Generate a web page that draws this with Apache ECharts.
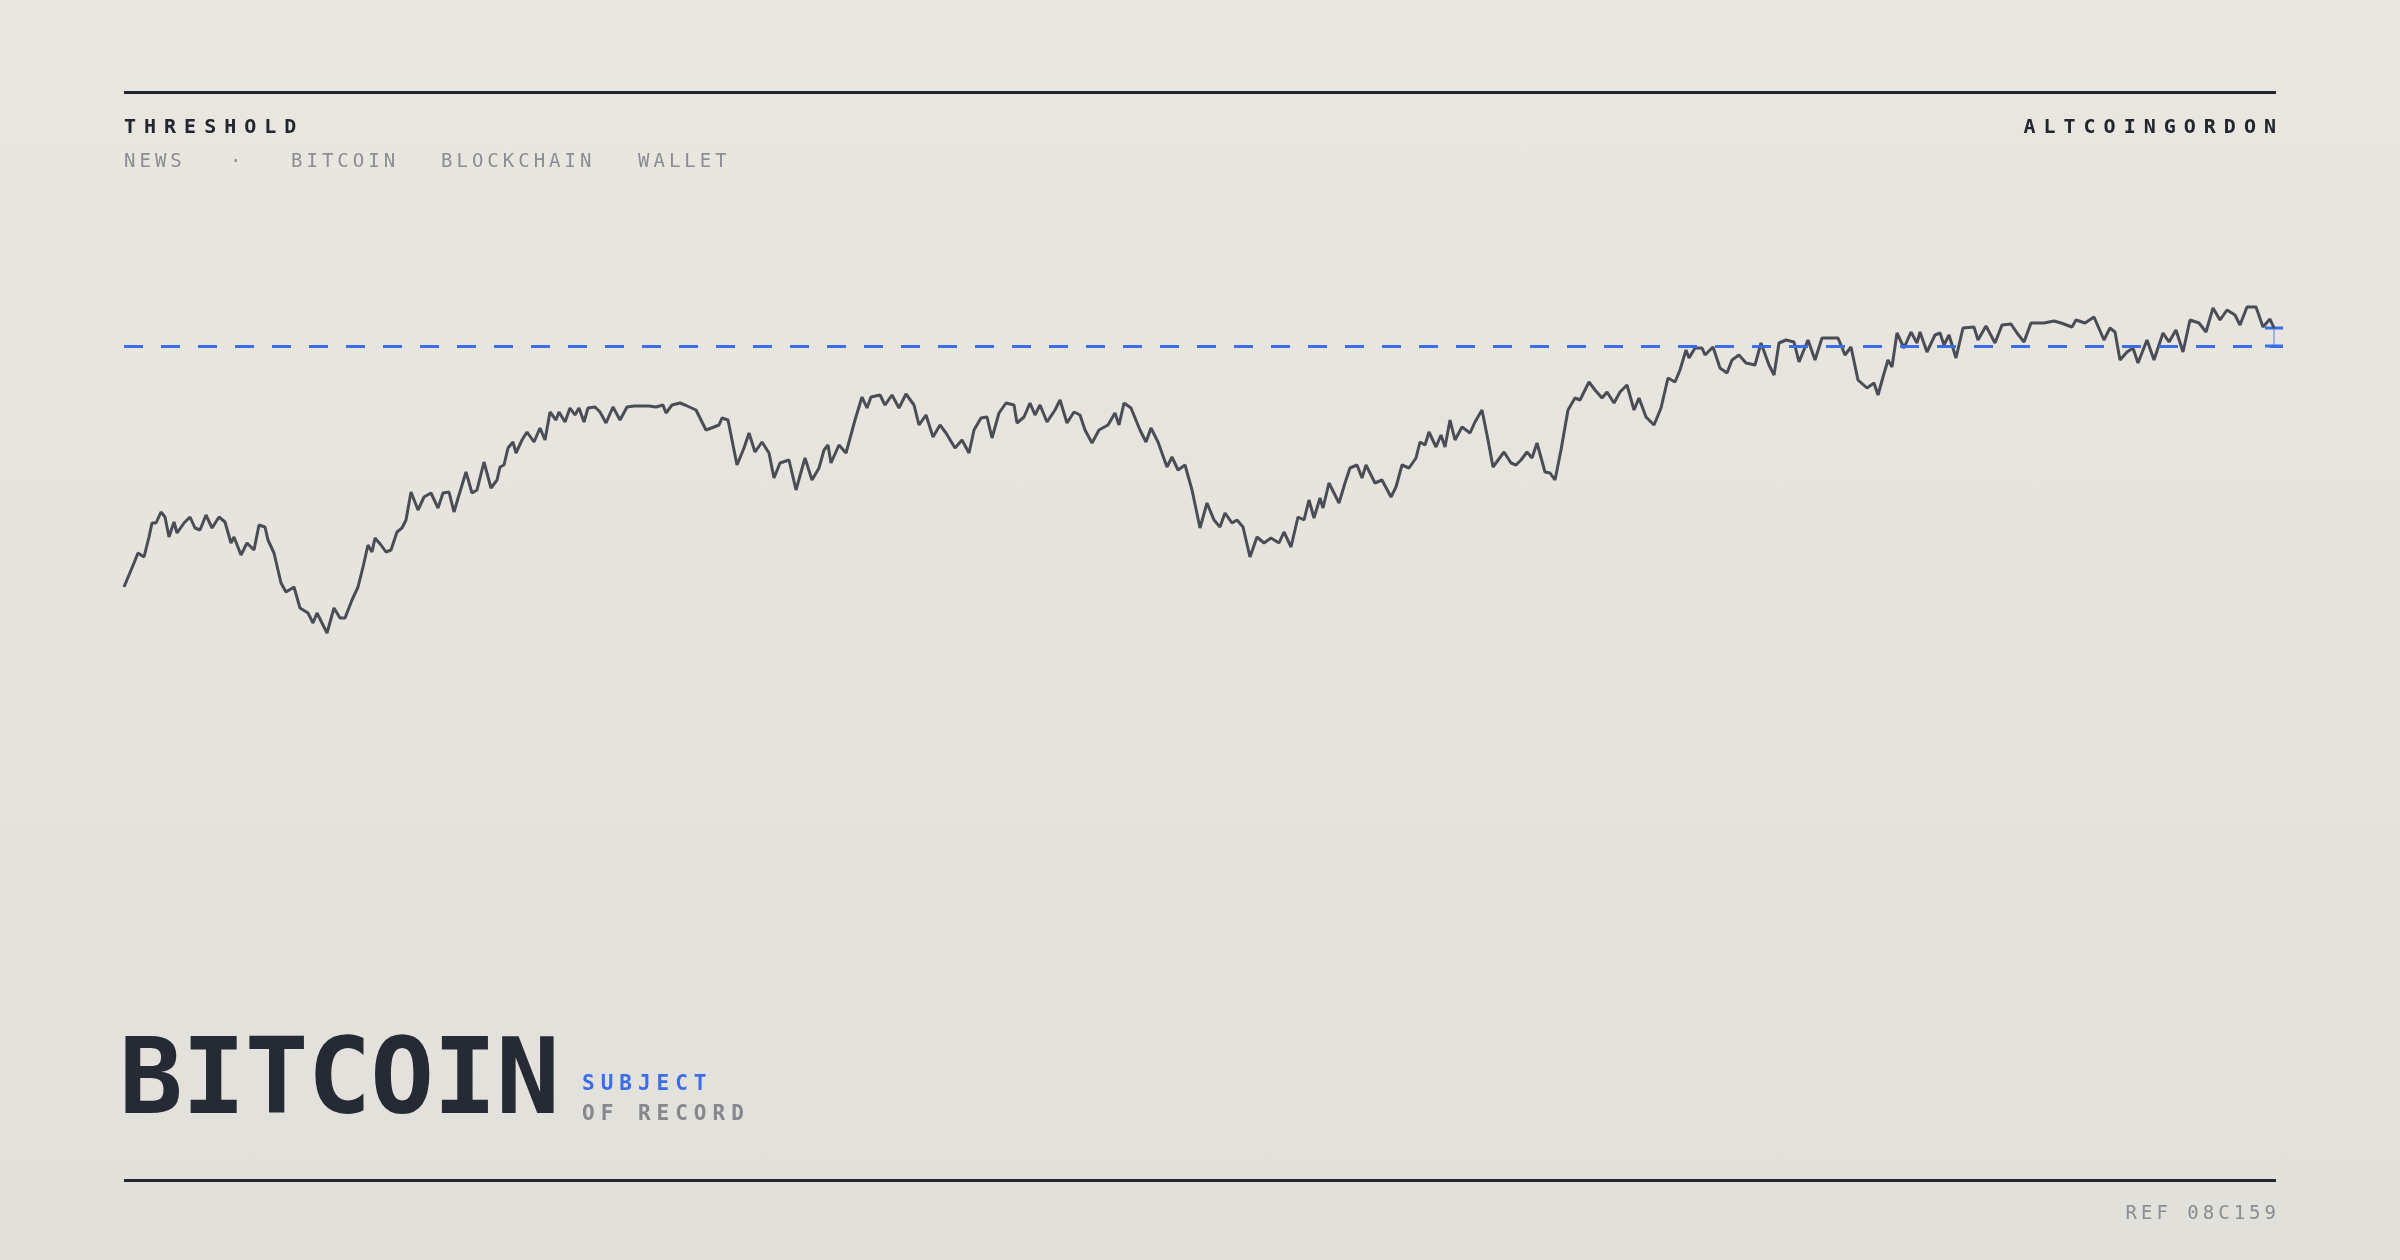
<!DOCTYPE html>
<html>
<head>
<meta charset="utf-8">
<script src="https://cdn.jsdelivr.net/npm/echarts@6/dist/echarts.min.js"></script>
<style>
  html, body { margin: 0; width: 2400px; height: 1260px; overflow: hidden; }
  body { background: linear-gradient(#eae7e1, #e2e0da); font-family: "DejaVu Sans Mono", monospace; position: relative; }
  #chart { position: absolute; left: 0; top: 0; width: 2400px; height: 1260px; }
  .t { position: absolute; white-space: nowrap; }
  .rule { position: absolute; left: 124px; width: 2152px; height: 3px; background: #23262e; }
</style>
</head>
<body>
<div id="chart"></div>
<div class="rule" style="top:91px"></div>
<div class="rule" style="top:1179px"></div>
<div class="t" style="left:124px;top:114px;font-size:20px;font-weight:bold;letter-spacing:8px;color:#23262e">THRESHOLD</div>
<div class="t" style="right:124px;top:114px;font-size:20px;font-weight:bold;letter-spacing:8px;color:#23262e;margin-right:-8px">ALTCOINGORDON</div>
<div class="t" style="left:124px;top:149px;font-size:19px;letter-spacing:4px;color:#8b8d93">NEWS</div>
<div class="t" style="left:230px;top:149px;font-size:19px;letter-spacing:4px;color:#8b8d93">·</div>
<div class="t" style="left:291px;top:149px;font-size:19px;letter-spacing:4px;color:#8b8d93">BITCOIN</div>
<div class="t" style="left:441px;top:149px;font-size:19px;letter-spacing:4px;color:#8b8d93">BLOCKCHAIN</div>
<div class="t" style="left:638px;top:149px;font-size:19px;letter-spacing:4px;color:#8b8d93">WALLET</div>
<div class="t" style="left:119px;top:1015px;font-size:106px;font-weight:bold;color:#262a35;letter-spacing:-1px">BITCOIN</div>
<div class="t" style="left:582px;top:1071px;font-size:21px;font-weight:bold;letter-spacing:6px;color:#3a6ee8">SUBJECT</div>
<div class="t" style="left:582px;top:1101px;font-size:21px;font-weight:bold;letter-spacing:6px;color:#85878d">OF RECORD</div>
<div class="t" style="right:124px;top:1201px;font-size:19px;letter-spacing:4px;color:#8b8d93;margin-right:-4px">REF 08C159</div>
<script>
var days = [0,10,14,20,25,28,32,37,41,45,50,53,60,66,71,76,82,88,95,101,107,110,117,123,130,135,141,144,150,157,162,170,176,184,189,193,198,203,210,216,221,228,234,239,244,248,251,257,262,267,273,278,282,287,294,300,307,314,319,325,330,335,342,348,353,360,367,373,376,380,384,389,392,398,403,410,416,421,426,432,435,441,446,451,455,460,464,471,476,482,489,496,503,510,525,532,539,542,548,556,
561,572,582,590,595,598,604,613,620,625,631,638,645,650,656,665,672,681,688,695,700,704,707,715,722,731,738,743,747,756,761,768,775,782,790,795,802,809,816,822,831,838,845,850,857,863,868,875,882,890,893,900,906,911,916,923,931,936,943,950,956,961,968,975,984,991,995,1000,1007,1016,1022,1027,1034,1043,1048,1054,1061,1068,1076,
1083,1090,1096,1101,1108,1113,1119,1126,1133,1140,1147,1155,1160,1167,1174,1180,1185,1190,1196,1199,1205,1215,1221,1226,1233,1238,1242,1251,1258,1267,1272,1278,1285,1292,1296,1301,1305,1312,1317,1321,1326,1331,1338,1346,1351,1358,1364,1369,1380,1387,1392,1397,1403,1408,1413,1421,1426,1431,1437,1444,1451,1456,1465,1471,1478,1483,1490,1496,1503,1510,1515,1522,1530,1537,1544,1551,1556,1562,1565,1571,1578,1581,1589,1596,1603,1608,1615,1622,1631,
1637,1645,1650,1655,1662,1670,1675,1684,1691,1698,1714,1721,1727,1734,1743,1750,1754,1759,1764,1768,1773,1780,1787,1793,1796,1803,1811,1816,1820,1825,1832,1839,1850,1854,1862,1871,1878,1887,1893,1900,1907,1920,1930,1937,1948,1952,1961,1970,1980,1986,1991,1996,2003,2009,2014,2023,2030,2039,2045,2052,2059,2066,2075,2082,2089,2096,2103,2111,2116,2123,2132,2139,2146,2150];
var prices = [63,87,97,93,113,127,127,138,133,113,128,117,127,133,122,120,135,122,133,128,107,113,95,107,100,125,123,110,97,67,58,63,42,37,27,37,27,17,42,32,32,50,63,83,105,98,112,105,98,100,118,122,130,158,140,153,157,142,157,158,138,155,178,157,160,188,162,170,183,185,202,208,197,210,218,208,222,210,238,230,238,228,242,235,242,228,242,243,238,227,243,230,243,244,244,243,245,237,245,247,
245,240,220,223,225,232,230,185,202,217,198,208,197,172,187,190,160,192,170,182,200,205,187,205,197,230,253,242,253,255,245,255,242,256,245,225,235,213,225,217,202,210,197,220,232,233,212,237,247,245,227,233,247,235,245,228,240,250,227,238,235,220,207,220,225,237,225,247,242,220,208,222,208,183,193,180,185,160,122,
147,130,123,137,127,130,123,93,113,107,112,107,118,103,133,130,150,132,152,142,167,147,167,182,185,172,185,167,170,153,163,185,182,192,208,205,218,203,215,203,230,210,223,217,228,240,210,183,198,187,185,190,198,192,207,178,177,170,200,240,252,250,268,260,252,258,247,258,265,240,252,233,225,242,272,268,280,300,292,302,302,295,303,282,277,290,295,287,285,
307,285,275,307,310,308,288,310,290,312,312,295,303,270,262,267,255,273,290,283,317,302,318,307,318,298,315,317,305,315,292,322,323,310,324,307,325,326,317,308,327,327,329,327,323,330,327,333,310,322,318,290,298,302,287,310,290,317,308,320,298,330,327,318,342,330,340,335,325,343,343,323,331,322];
var reference = 304;

var chart = echarts.init(document.getElementById('chart'), null, { renderer: 'canvas' });
var last = prices.length - 1;
chart.setOption({
  animation: false,
  grid: { left: 124, top: 300, width: 2159, height: 350 },
  xAxis: { type: 'value', min: 0, max: 2159, show: false },
  yAxis: { type: 'value', min: 0, max: 350, show: false },
  series: [
    {
      type: 'line',
      data: days.map(function (d, i) { return [d, prices[i]]; }),
      showSymbol: false,
      lineStyle: { color: '#4a4d56', width: 3 },
      markLine: {
        silent: true, symbol: 'none', label: { show: false },
        lineStyle: { color: '#3a6ee8', width: 3, type: [19, 18] },
        data: [{ yAxis: reference }]
      }
    },
    {
      type: 'custom',
      data: [[days[last], prices[last], reference]],
      renderItem: function (params, api) {
        var top = api.coord([api.value(0), api.value(1)]);
        var bot = api.coord([api.value(0), api.value(2)]);
        var half = 9;
        var style = { stroke: '#3a6ee8', lineWidth: 3 };
        return { type: 'group', children: [
          { type: 'line', shape: { x1: top[0], y1: top[1], x2: bot[0], y2: bot[1] }, style: { stroke: '#7fa0ee', lineWidth: 1.5 } },
          { type: 'line', shape: { x1: top[0] - half, y1: top[1], x2: top[0] + half, y2: top[1] }, style: style },
          { type: 'line', shape: { x1: bot[0] - half, y1: bot[1], x2: bot[0] + half, y2: bot[1] }, style: style }
        ]};
      }
    }
  ]
});
</script>
</body>
</html>
